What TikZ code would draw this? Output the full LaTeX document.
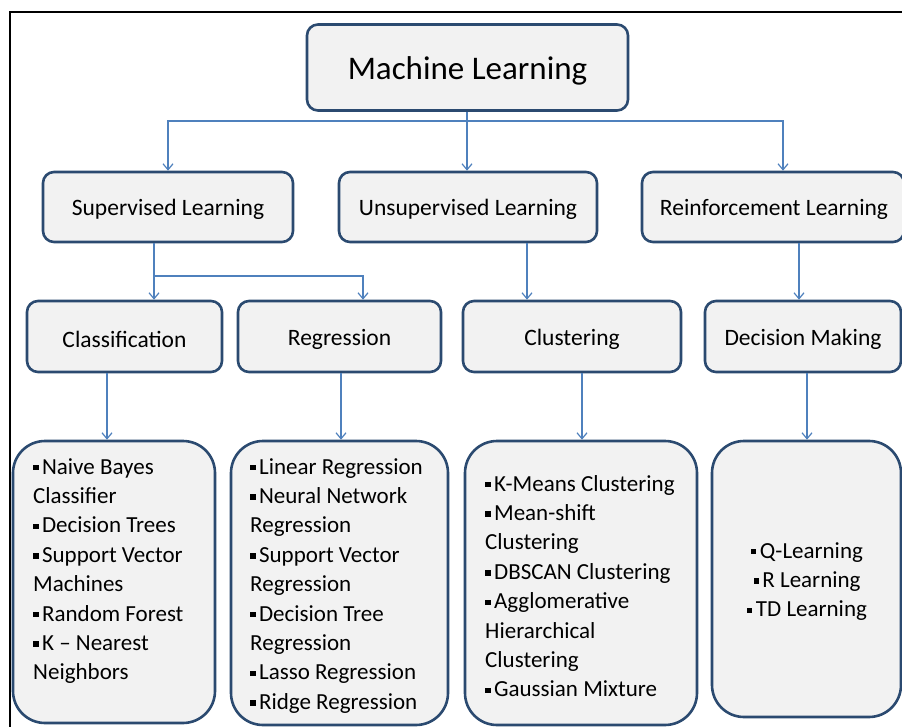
\documentclass[tikz,border=0pt]{standalone}
\usepackage{fontspec}
\setmainfont{Carlito}
\usetikzlibrary{arrows.meta,calc}
\definecolor{boxline}{HTML}{2B4A70}
\definecolor{boxfill}{HTML}{F2F2F2}
\definecolor{conn}{HTML}{4F81BD}
\newcommand\sqb{\raisebox{0.16em}{\rule{5.4pt}{5.4pt}}\hspace{3.5pt}}
\tikzset{
  topbox/.style={draw=boxline, fill=boxfill, line width=2.6pt, rounded corners=11pt, inner sep=0pt},
  listbox/.style={draw=boxline, fill=boxfill, line width=2.6pt, rounded corners=32pt, inner sep=0pt},
  lbl/.style={font=\fontsize{23.5}{28}\selectfont},
  listtext/.style={inner sep=0pt, align=left, font=\fontsize{23}{29.4}\selectfont},
  arr/.style={draw=conn, line width=1.4pt, -{Straight Barb[length=6pt,width=10pt,line width=1.2pt]}},
  ln/.style={draw=conn, line width=1.4pt}
}
\begin{document}
\begin{tikzpicture}[x=1pt,y=-1pt]
\useasboundingbox (0,0) rectangle (902,727);
\fill[white] (0,0) rectangle (902,727);
% outer frame
\draw[black, line width=2pt] (10,727) -- (10,12) -- (902,12);

% top
\node[topbox, minimum width=321pt, minimum height=86pt] (ml) at (467.5,67.5) {};
\node[font=\fontsize{33}{40}\selectfont] (mlt) at (467.5,71) {Machine Learning};

% level 1
\node[topbox, minimum width=250pt, minimum height=70pt] (sl) at (168,207) {};
\node[lbl] (slt) at (168,209) {Supervised Learning};
\node[topbox, minimum width=258pt, minimum height=70pt] (ul) at (468,207) {};
\node[lbl] (ult) at (468,209) {Unsupervised Learning};
\node[topbox, minimum width=262pt, minimum height=70pt] (rl) at (773,207) {};
\node[lbl] (rlt) at (774,209) {Reinforcement Learning};

% level 2
\node[topbox, minimum width=195pt, minimum height=71pt] (cl) at (124.5,336.5) {};
\node[lbl] (clt) at (124.5,339) {Classification};
\node[topbox, minimum width=203pt, minimum height=71pt] (rg) at (339.5,336.5) {};
\node[lbl] (rgt) at (339.5,339) {Regression};
\node[topbox, minimum width=218pt, minimum height=71pt] (cu) at (572,336.5) {};
\node[lbl] (cut) at (572,339) {Clustering};
\node[topbox, minimum width=196pt, minimum height=71pt] (dm) at (803,336.5) {};
\node[lbl] (dmt) at (803,339) {Decision Making};

% level 3
\node[listbox, minimum width=202pt, minimum height=282pt] (b1) at (114,582) {};
\node[listbox, minimum width=217pt, minimum height=284pt] (b2) at (339.5,583) {};
\node[listbox, minimum width=232pt, minimum height=284pt] (b3) at (581,583) {};
\node[listbox, minimum width=189pt, minimum height=276pt] (b4) at (806.5,579) {};

\node[listtext, anchor=north west] (t1) at (33,458) {\sqb Naive Bayes\\Classifier\\\sqb Decision Trees\\\sqb Support Vector\\Machines\\\sqb Random Forest\\\sqb K -- Nearest\\Neighbors};
\node[listtext, anchor=north west] (t2) at (250,458) {\sqb Linear Regression\\\sqb Neural Network\\Regression\\\sqb Support Vector\\Regression\\\sqb Decision Tree\\Regression\\\sqb Lasso Regression\\\sqb Ridge Regression};
\node[listtext, anchor=north west] (t3) at (485,475) {\sqb K-Means Clustering\\\sqb Mean-shift\\Clustering\\\sqb DBSCAN Clustering\\\sqb Agglomerative\\Hierarchical\\Clustering\\\sqb Gaussian Mixture};
\node[listtext, align=center, anchor=north] (t4) at (807,542) {\sqb Q-Learning\\\sqb R Learning\\\sqb TD Learning};

% connectors
\coordinate (j1) at (467,121);
\draw[ln] (ml.south -| j1) -- (j1);
\draw[arr] (j1) -- (ul.north -| j1);
\draw[arr] (j1) -| (sl.north);
\coordinate (jr) at (783,121);
\draw[arr] (j1) -- (jr) -- (rl.north -| jr);

\coordinate (j2) at (154,276);
\coordinate (j3) at (363,276);
\draw[ln] (sl.south -| j2) -- (j2);
\draw[arr] (j2) -- (cl.north -| j2);
\draw[arr] (j2) -- (j3) -- (rg.north -| j3);

\coordinate (j4) at (527,300);
\draw[arr] (ul.south -| j4) -- (cu.north -| j4);
\coordinate (j5) at (799,300);
\draw[arr] (rl.south -| j5) -- (dm.north -| j5);

\coordinate (k1) at (107,400);
\draw[arr] (cl.south -| k1) -- (b1.north -| k1);
\coordinate (k2) at (341,400);
\draw[arr] (rg.south -| k2) -- (b2.north -| k2);
\coordinate (k3) at (582,400);
\draw[arr] (cu.south -| k3) -- (b3.north -| k3);
\coordinate (k4) at (807,400);
\draw[arr] (dm.south -| k4) -- (b4.north -| k4);
\end{tikzpicture}
\end{document}
